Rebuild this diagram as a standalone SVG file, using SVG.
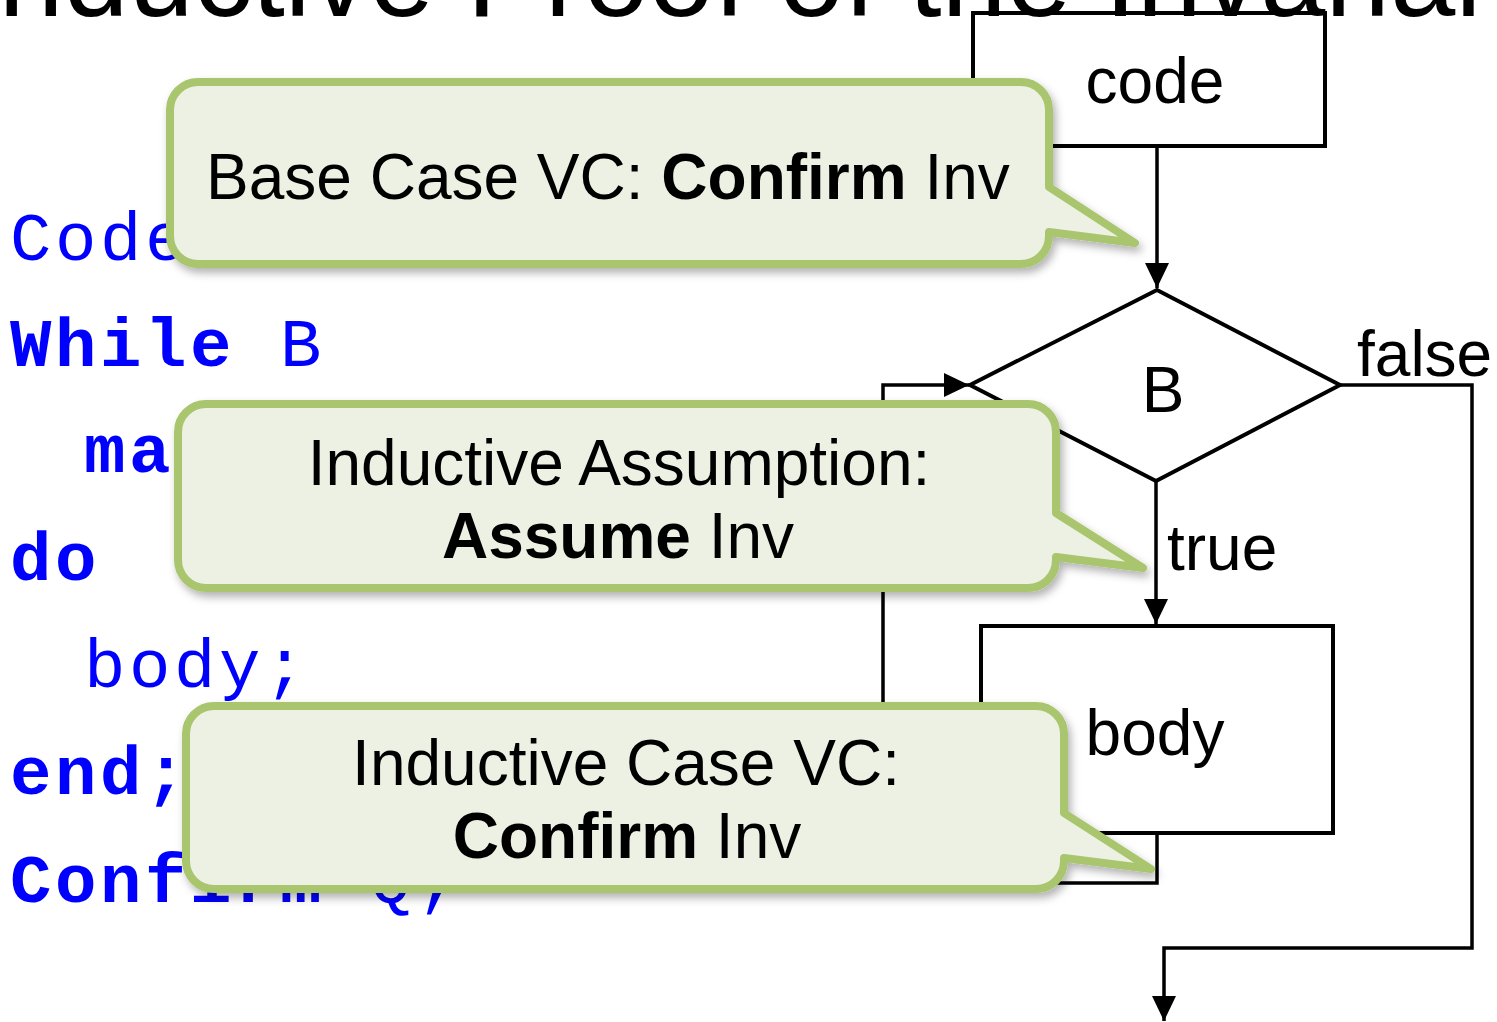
<svg xmlns="http://www.w3.org/2000/svg" width="1497" height="1022" viewBox="0 0 1497 1022">
  <defs>
    <style>
      .sans { font-family: "Liberation Sans", Arial, Helvetica, sans-serif; fill: #000; }
      .mono { font-family: "Liberation Mono", "Courier New", monospace; fill: #0000FF; font-size: 69px; letter-spacing: 3.6px; }
      .kw { font-weight: bold; }
      .lbl { font-size: 64px; }
      .box { fill: none; stroke: #000; stroke-width: 4; }
      .wire { fill: none; stroke: #000; stroke-width: 3.5; }
      .callout { fill: #ECF1E3; stroke: #A9C56E; stroke-width: 8; stroke-linejoin: round; filter: url(#shadow); }
      .ctext { font-size: 64px; }
    </style>
    <marker id="arrow" markerUnits="userSpaceOnUse" markerWidth="26" markerHeight="24" refX="25" refY="12" orient="auto">
      <path d="M0,0 L25,12 L0,24 Z" fill="#000"/>
    </marker>
    <filter id="shadow" x="-5%" y="-10%" width="115%" height="130%">
      <feDropShadow dx="3" dy="5" stdDeviation="4" flood-color="#000" flood-opacity="0.3"/>
    </filter>
  </defs>

  <rect width="1497" height="1022" fill="#fff"/>

  <!-- slide title, pushed mostly above the top edge -->
  <text id="title" class="sans" x="-34" y="16" font-size="117">Inductive Proof of the Invariant</text>

  <!-- program listing -->
  <g id="listing" class="mono">
    <text x="10" y="260">Code</text>
    <text x="10" y="366"><tspan class="kw">While</tspan> B</text>
    <text x="84" y="472" class="kw">ma</text>
    <text x="10" y="580" class="kw">do</text>
    <text x="84" y="687">body;</text>
    <text x="10" y="794" class="kw">end;</text>
    <text x="10" y="902"><tspan class="kw">Confirm</tspan> Q;</text>
  </g>

  <!-- flowchart nodes -->
  <g id="node-code">
    <rect class="box" x="973" y="13" width="352" height="133"/>
    <text class="sans lbl" x="1155" y="103" text-anchor="middle">code</text>
  </g>
  <g id="node-cond">
    <polygon class="box" stroke-width="3.5" points="1157,290 1340,385 1156,481 970,385"/>
    <text class="sans lbl" x="1163" y="412" text-anchor="middle">B</text>
  </g>
  <g id="node-body">
    <rect class="box" x="981" y="626" width="352" height="207"/>
    <text class="sans lbl" x="1155" y="755" text-anchor="middle">body</text>
  </g>

  <!-- flowchart connectors -->
  <g id="connectors">
    <path class="wire" d="M1157,146 V288" marker-end="url(#arrow)"/>
    <path class="wire" d="M1156,481 V624" marker-end="url(#arrow)"/>
    <path class="wire" d="M1157,833 V883 H883 V385 H969" marker-end="url(#arrow)"/>
    <path class="wire" d="M1340,385 H1472 V948 H1164 V1021" marker-end="url(#arrow)"/>
    <text class="sans lbl" x="1167" y="570">true</text>
    <text class="sans lbl" x="1357" y="376">false</text>
  </g>

  <!-- callouts -->
  <g id="callout-base">
    <path class="callout" d="M198,82 H1021 A28,28 0 0 1 1049,110 V187 L1135,243 L1049,232 V236 A28,28 0 0 1 1021,264 H198 A28,28 0 0 1 170,236 V110 A28,28 0 0 1 198,82 Z"/>
    <text class="sans ctext" x="206" y="199">Base Case VC: <tspan font-weight="bold">Confirm</tspan> Inv</text>
  </g>
  <g id="callout-assume">
    <path class="callout" d="M206,404 H1028 A28,28 0 0 1 1056,432 V513 L1143,568 L1056,557 V560 A28,28 0 0 1 1028,588 H206 A28,28 0 0 1 178,560 V432 A28,28 0 0 1 206,404 Z"/>
    <text class="sans ctext" x="619" y="485" text-anchor="middle">Inductive Assumption:</text>
    <text class="sans ctext" x="618" y="558" text-anchor="middle"><tspan font-weight="bold">Assume</tspan> Inv</text>
  </g>
  <g id="callout-step">
    <path class="callout" d="M214,706 H1036 A28,28 0 0 1 1064,734 V813 L1151,869 L1064,858 V861 A28,28 0 0 1 1036,889 H214 A28,28 0 0 1 186,861 V734 A28,28 0 0 1 214,706 Z"/>
    <text class="sans ctext" x="626" y="785" text-anchor="middle">Inductive Case VC:</text>
    <text class="sans ctext" x="627" y="858" text-anchor="middle"><tspan font-weight="bold">Confirm</tspan> Inv</text>
  </g>
</svg>
